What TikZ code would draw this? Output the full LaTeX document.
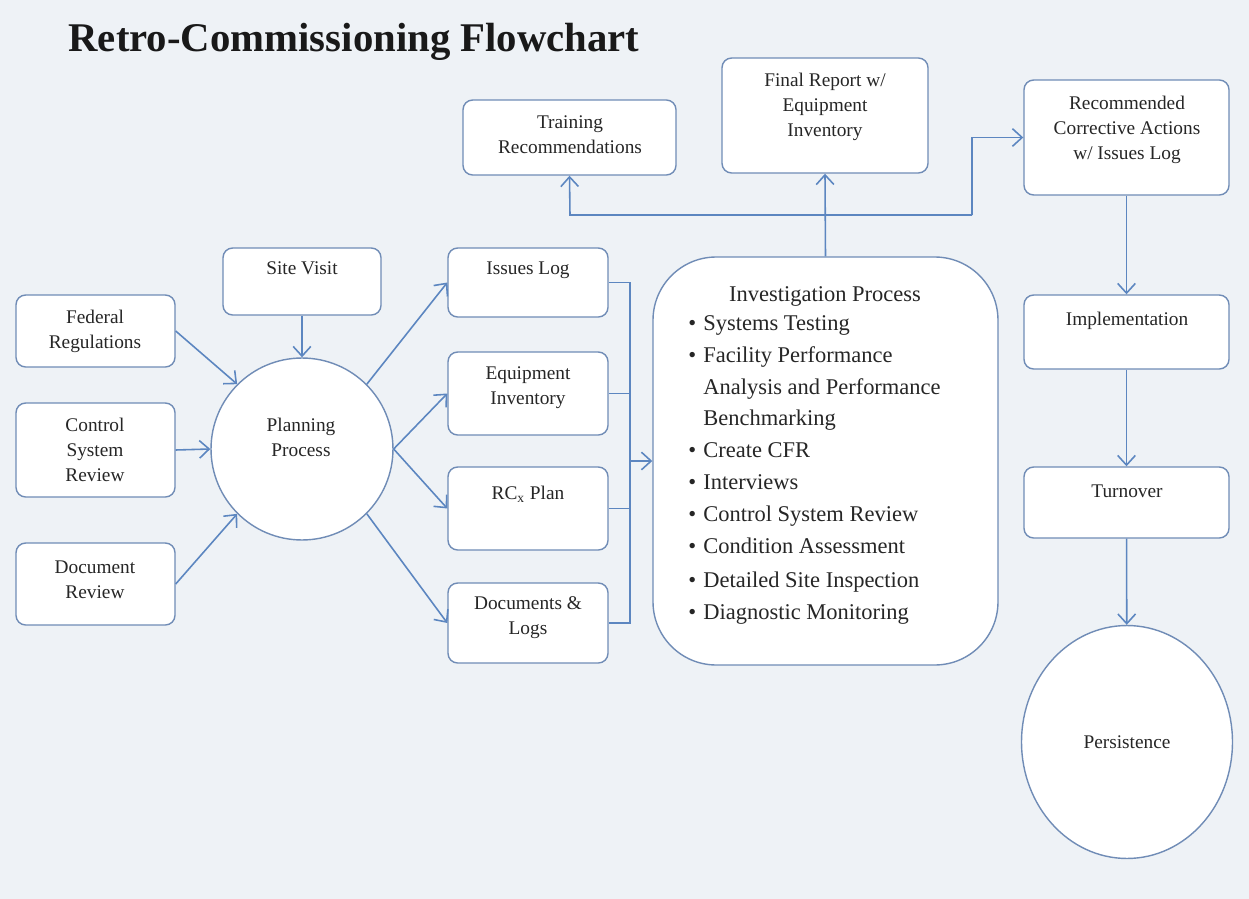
\documentclass[tikz,border=0pt]{standalone}
\usepackage{fontspec}
\setmainfont{Liberation Serif}
\usetikzlibrary{arrows.meta,fit,calc,shapes.geometric}
\definecolor{bg}{RGB}{238,242,246}
\definecolor{edge}{RGB}{112,140,182}
\definecolor{arr}{RGB}{92,134,192}
\begin{document}
\begin{tikzpicture}[x=0.02cm,y=-0.02cm,
  box/.style={draw=edge, fill=white, rounded corners=5.5pt, line width=0.8pt, inner sep=0pt},
  txt/.style={font=\fontsize{11}{14.3}\selectfont, align=center, inner sep=0pt, text=black!85},
  itxt/.style={font=\fontsize{12.8}{18}\selectfont, inner sep=0pt, text=black!85, text height=0.7em, text depth=0.2em},
  arrow/.style={draw=arr, line width=0.9pt, -{Straight Barb[length=5.5pt,width=10pt]}},
  link/.style={draw=arr, line width=0.9pt}]
\fill[bg] (0,0) rectangle (1249,899);
\useasboundingbox (0,0) rectangle (1249,899);

% title
\node[inner sep=0pt, font=\fontsize{23.2}{27}\selectfont\bfseries, text=black!90] (title) at (354,42) {Retro-Commissioning Flowchart};

% left inputs
\node[box, fit={(16,295)(175,367)}] (fed) {};
\node[txt] (fedT) at (95,331) {Federal\\Regulations};
\node[box, fit={(16,403)(175,497)}] (ctl) {};
\node[txt] (ctlT) at (95,450) {Control\\System\\Review};
\node[box, fit={(16,543)(175,625)}] (doc) {};
\node[txt] (docT) at (95,580) {Document\\Review};
\node[box, fit={(223,248)(381,315)}] (site) {};
\node[txt] (siteT) at (302,268) {Site Visit};

% planning
\node[draw=edge, fill=white, line width=0.8pt, circle, minimum size=3.64cm, inner sep=0pt] (plan) at (302,449) {};
\node[txt] (planT) at (301,437) {Planning\\Process};

% outputs of planning
\node[box, fit={(448,248)(608,317)}] (iss) {};
\node[txt] (issT) at (528,270) {Issues Log};
\node[box, fit={(448,352)(608,435)}] (eq) {};
\node[txt] (eqT) at (528,388) {Equipment\\Inventory};
\node[box, fit={(448,467)(608,550)}] (rcx) {};
\node[txt] (rcxT) at (528,494) {RC\textsubscript{x} Plan};
\node[box, fit={(448,583)(608,663)}] (docs) {};
\node[txt] (docsT) at (528,618) {Documents \&\\Logs};

% investigation
\node[box, rounded corners=36pt, fit={(653,257)(998,665)}] (inv) {};
\node[itxt] (invT) at (825,297) {Investigation Process};
\foreach \y [count=\i] in {326,358,453,485,517,549,583,615}
  \node[itxt, anchor=west] (bul\i) at (688,\y) {\textbullet};
\foreach \y/\t [count=\i] in {326/Systems Testing, 358/Facility Performance,
  390/Analysis and Performance, 421/Benchmarking, 453/Create CFR, 485/Interviews,
  517/Control System Review, 549/Condition Assessment, 583/Detailed Site Inspection,
  615/Diagnostic Monitoring}
  \node[itxt, anchor=west] (inv\i) at (703,\y) {\t};

% top outputs
\node[box, fit={(463,100)(676,175)}] (train) {};
\node[txt] (trainT) at (570,135) {Training\\Recommendations};
\node[box, fit={(722,58)(928,173)}] (fin) {};
\node[txt] (finT) at (825,107) {Final Report w/\\Equipment\\Inventory};
\node[box, fit={(1024,80)(1229,195)}] (rec) {};
\node[txt] (recT) at (1127,130) {Recommended\\Corrective Actions\\w/ Issues Log};

% right column
\node[box, fit={(1024,295)(1229,369)}] (impl) {};
\node[txt] (implT) at (1127,321) {Implementation};
\node[box, fit={(1024,467)(1229,538)}] (turn) {};
\node[txt] (turnT) at (1127,491) {Turnover};
\node[draw=edge, fill=white, line width=0.8pt, ellipse, minimum width=4.22cm, minimum height=4.66cm, inner sep=0pt] (pers) at (1127,742) {};
\node[txt] (persT) at (1127,742) {Persistence};

% connectors into planning
\draw[arrow] (site) -- (plan);
\draw[arrow] (fed.east) -- (plan.135);
\draw[arrow] (ctl.east) -- (plan.west);
\draw[arrow] (doc.east) -- (plan.225);

% connectors out of planning
\draw[arrow] (plan.45) -- (iss.west);
\draw[arrow] (plan.east) -- (eq.west);
\draw[arrow] (plan.east) -- (rcx.west);
\draw[arrow] (plan.-45) -- (docs.west);

% bus to investigation
\coordinate (bx) at (630,0);
\draw[link] (iss.east) -- (iss.east -| bx) -- (docs.east -| bx) -- (docs.east);
\draw[link] (eq.east) -- (eq.east -| bx);
\draw[link] (rcx.east) -- (rcx.east -| bx);
\draw[arrow] (inv.west -| bx) -- (inv.west);

% investigation to top
\coordinate (hl) at (570,215);
\coordinate (hr) at (972,215);
\draw[arrow] (inv.north) -- (fin.south);
\draw[arrow] (hr) -- (hl) -- (train.south);
\draw[arrow] (hr) |- (rec.west);

% right chain
\draw[arrow] (rec) -- (impl);
\draw[arrow] (impl) -- (turn);
\draw[arrow] (turn) -- (pers);
\end{tikzpicture}
\end{document}
